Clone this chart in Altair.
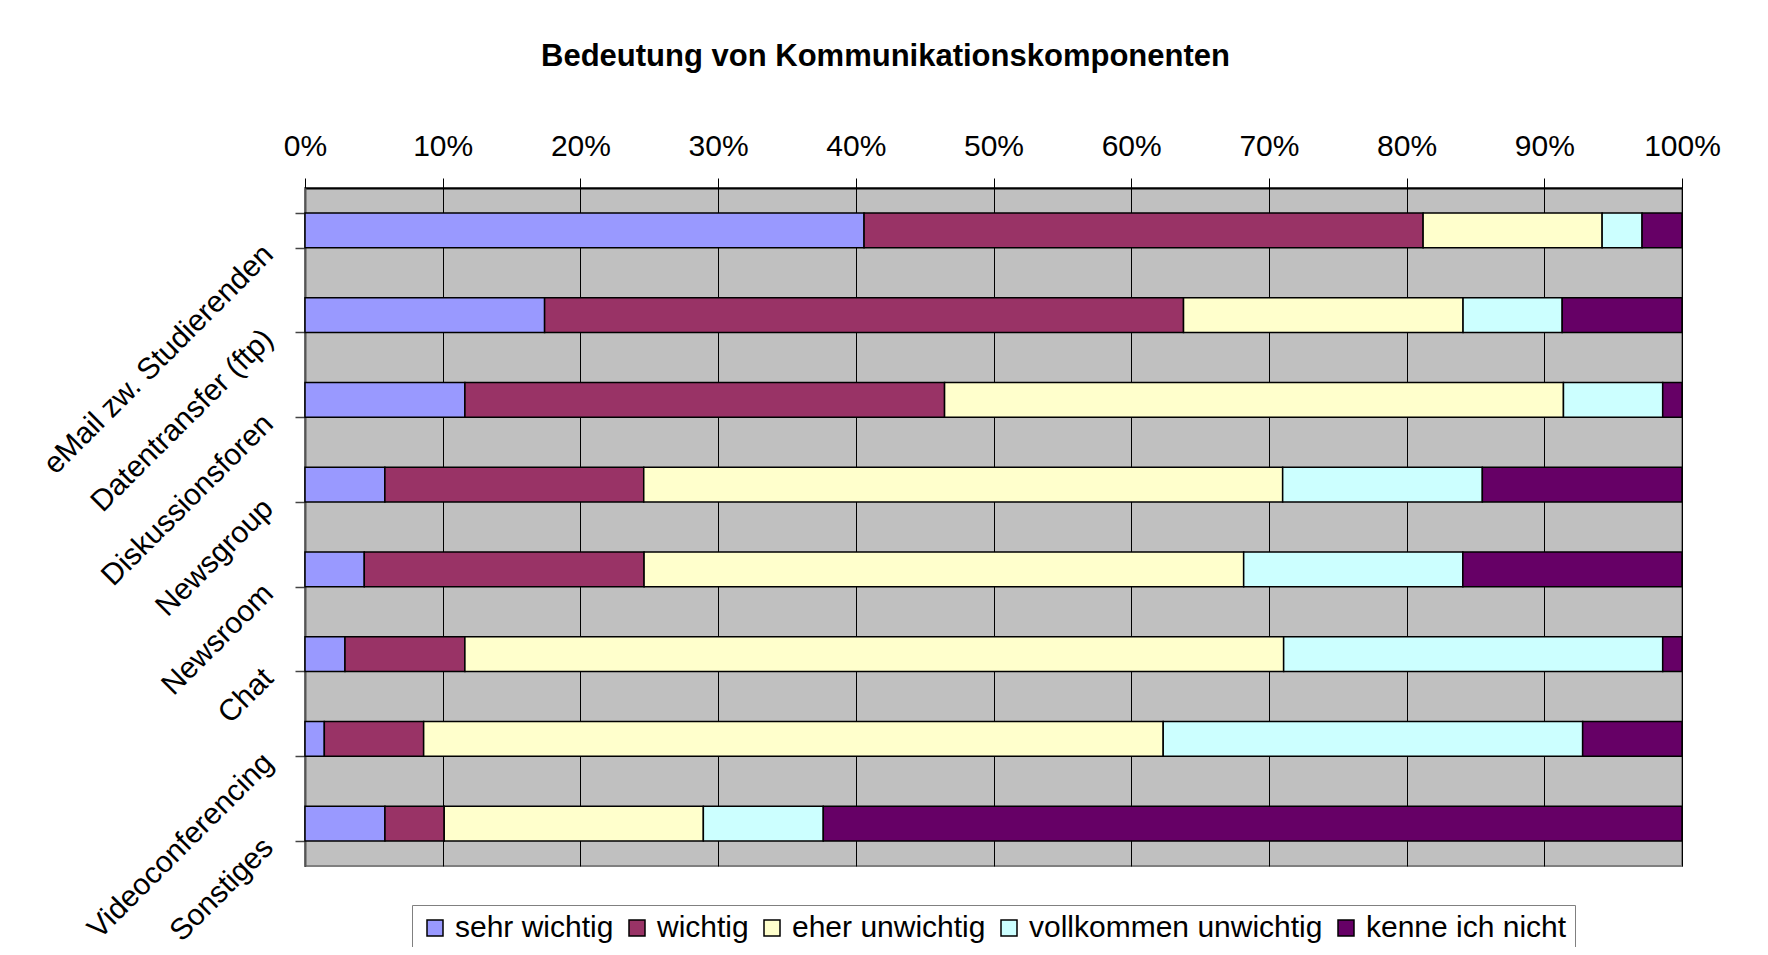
import altair as alt
import pandas as pd

categories = ["eMail zw. Studierenden", "Datentransfer (ftp)", "Diskussionsforen",
              "Newsgroup", "Newsroom", "Chat", "Videoconferencing", "Sonstiges"]
levels = ["sehr wichtig", "wichtig", "eher unwichtig", "vollkommen unwichtig", "kenne ich nicht"]
colors = ["#9999FF", "#993366", "#FFFFCC", "#CCFFFF", "#660066"]

sehr_wichtig = [40.6, 17.4, 11.6, 5.8, 4.3, 2.9, 1.4, 5.8]
wichtig = [40.6, 46.4, 34.8, 18.8, 20.3, 8.7, 7.2, 4.3]
eher_unwichtig = [13.0, 20.3, 44.9, 46.4, 43.5, 59.4, 53.6, 18.8]
vollkommen_unwichtig = [2.9, 7.2, 7.2, 14.5, 15.9, 27.5, 30.4, 8.7]
kenne_ich_nicht = [2.9, 8.7, 1.4, 14.5, 15.9, 1.4, 7.2, 62.3]

tick_values = [0, 0.1, 0.2, 0.3, 0.4, 0.5, 0.6, 0.7, 0.8, 0.9, 1.0]

series = [sehr_wichtig, wichtig, eher_unwichtig, vollkommen_unwichtig, kenne_ich_nicht]
rows = []
for i, c in enumerate(categories):
    for j, (lvl, vals) in enumerate(zip(levels, series)):
        rows.append({"Komponente": c, "Bewertung": lvl, "Anteil": vals[i], "ord": j})
df = pd.DataFrame(rows)

FONT = "Liberation Sans"

chart = alt.Chart(df).mark_bar(stroke="black", strokeWidth=1.5).encode(
    y=alt.Y("Komponente:N", sort=categories, title=None,
            scale=alt.Scale(paddingInner=0.59, paddingOuter=0.295),
            axis=alt.Axis(labelAngle=315, labelAlign="right", labelBaseline="middle",
                          labelFontSize=30, labelFont=FONT, labelColor="black",
                          labelOffset=19, labelPadding=27, labelLimit=0,
                          tickBand="extent", tickSize=10, tickColor="#444444",
                          tickWidth=1.5, domainColor="#555555", domainWidth=2,
                          grid=False)),
    x=alt.X("Anteil:Q", stack="normalize", title=None,
            scale=alt.Scale(domain=[0, 1], nice=False),
            axis=alt.Axis(orient="top", format=".0%", values=tick_values, grid=True,
                          gridColor="black", gridWidth=1, tickSize=10, tickColor="black",
                          domainColor="black", domainWidth=2, labelFontSize=30,
                          labelFont=FONT, labelColor="black", labelPadding=17,
                          labelFlush=False, labelLimit=0)),
    color=alt.Color("Bewertung:N", sort=levels,
                    scale=alt.Scale(domain=levels, range=colors),
                    legend=alt.Legend(orient="none", legendX=107, legendY=717,
                                      direction="horizontal", columns=5, title=None,
                                      symbolType="square", symbolSize=256,
                                      symbolStrokeColor="black", symbolStrokeWidth=1.5,
                                      labelFontSize=30, labelFont=FONT, labelColor="black",
                                      labelOffset=5, labelLimit=0, columnPadding=8,
                                      padding=8, strokeColor="#808080", fillColor="white")),
    order=alt.Order("ord:Q"),
).properties(
    width=1377, height=678,
    title=alt.TitleParams("Bedeutung von Kommunikationskomponenten", fontSize=31,
                          font=FONT, fontWeight="bold", color="black",
                          anchor="middle", dx=-108, dy=-54),
    autosize=alt.AutoSizeParams(type="none"),
    padding={"left": 297, "top": 180, "right": 78, "bottom": 81},
).configure_view(fill="#C0C0C0", stroke="#808080", strokeWidth=2)

chart.save("out.html", embed_options={"renderer": "svg", "actions": False})
